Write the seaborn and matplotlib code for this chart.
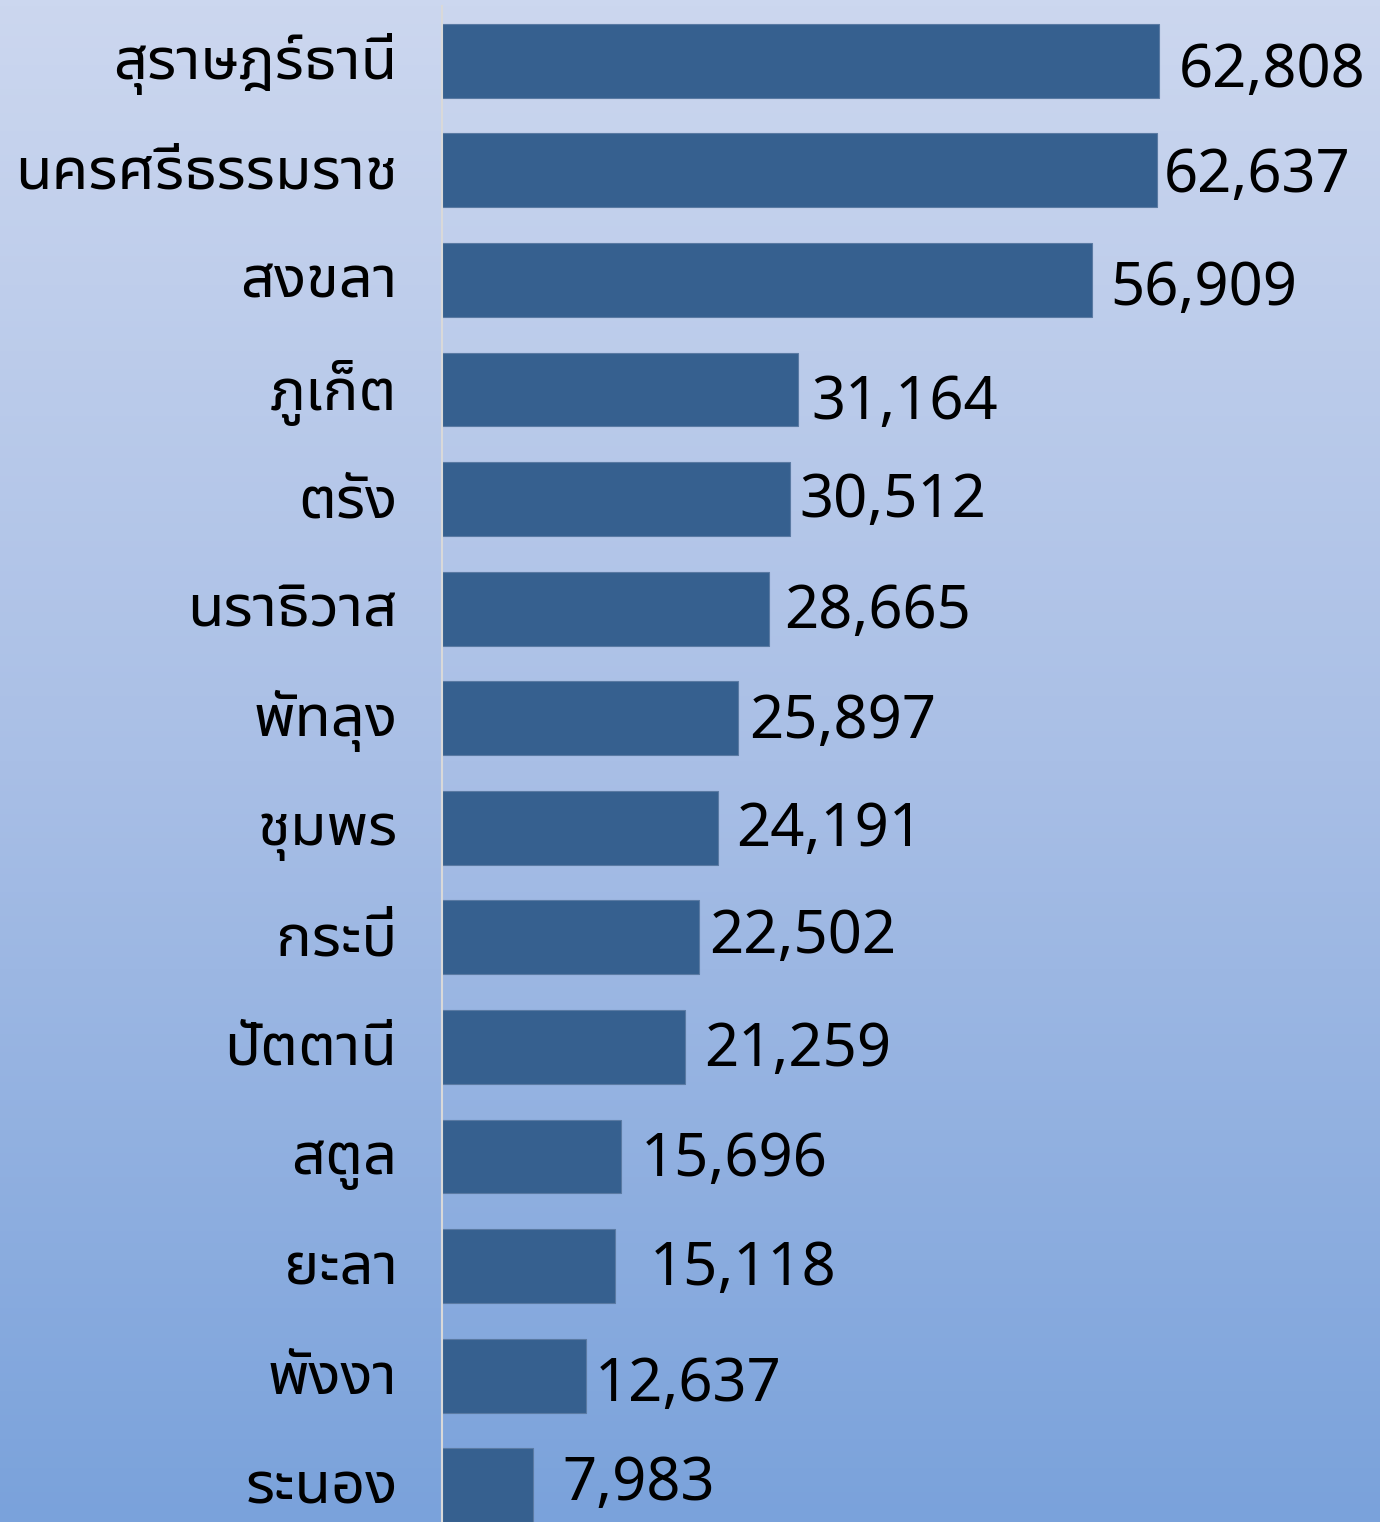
import matplotlib
matplotlib.use('Agg')
import seaborn as sns
import matplotlib.pyplot as plt
import matplotlib.ticker as mticker
from matplotlib.colors import LinearSegmentedColormap
from matplotlib.transforms import ScaledTranslation
import pandas as pd
import numpy as np

provinces = ["สุราษฎร์ธานี", "นครศรีธรรมราช", "สงขลา", "ภูเก็ต", "ตรัง",
             "นราธิวาส", "พัทลุง", "ชุมพร", "กระบี่", "ปัตตานี",
             "สตูล", "ยะลา", "พังงา", "ระนอง"]
counts = [62808, 62637, 56909, 31164, 30512, 28665, 25897, 24191,
          22502, 21259, 15696, 15118, 12637, 7983]

# label nudges in pixels (the original labels sit a little unevenly)
label_dx = [20, 7, 19, 14, 9, 15, 11, 18, 10, 19, 20, 35, 8, 29]
label_dy = [26, 22, 25, 29, 18, 19, 20, 18, 16, 19, 19, 19, 25, 15]

df = pd.DataFrame({"province": provinces, "count": counts})

sns.set_style("white")
thai = ['Noto Sans Thai UI', 'Noto Sans Thai', 'DejaVu Sans']
plt.rcParams['font.family'] = thai

W, H = 1380, 1522
fig = plt.figure(figsize=(W / 100, H / 100), dpi=100)

# gradient background
bg = fig.add_axes([0, 0, 1, 1], zorder=0)
grad = LinearSegmentedColormap.from_list("bg", ["#ccd7ef", "#a9bfe6", "#7aa2db"])
bg.imshow(np.linspace(0, 1, 256).reshape(-1, 1), aspect='auto', cmap=grad,
          extent=[0, 1, 0, 1], origin='upper')
bg.set_axis_off()

left = 442 / W
top = 6
bottom = 1540
ax = fig.add_axes([left, (H - bottom) / H, 1 - left, (bottom - top) / H], zorder=1)
ax.patch.set_alpha(0)

sns.barplot(data=df, x="count", y="province", orient="h", color="#36608f",
            width=0.675, edgecolor="#5a7aa3", linewidth=0.8, saturation=1, ax=ax)

px_per_unit = 717 / 62808
ax.set_xlim(0, (W - left * W) / px_per_unit)
ax.set_ylim(len(provinces) - 0.5, -0.5)

for i, v in enumerate(counts):
    ax.annotate(f"{v:,}", (v, i), xytext=(label_dx[i], -label_dy[i]),
                textcoords='offset pixels', va='baseline', ha='left',
                fontsize=43, color='black')

ax.set_xlabel("")
ax.set_ylabel("")
ax.xaxis.set_visible(False)
for s in ["top", "right", "bottom"]:
    ax.spines[s].set_visible(False)
ax.spines["left"].set_color("#d9d9d9")
ax.spines["left"].set_linewidth(1.5)

ax.yaxis.set_minor_locator(mticker.FixedLocator(np.arange(-0.5, len(provinces), 1)))
ax.tick_params(axis='y', which='major', length=0, pad=32, labelsize=43,
               labelcolor='black')
ax.tick_params(axis='y', which='minor', length=10, width=1.5, color="#d9d9d9")

shift = ScaledTranslation(0, 5 / 100, fig.dpi_scale_trans)
for lbl in ax.get_yticklabels():
    lbl.set_transform(lbl.get_transform() + shift)

fig.savefig("out.png", dpi=100)
